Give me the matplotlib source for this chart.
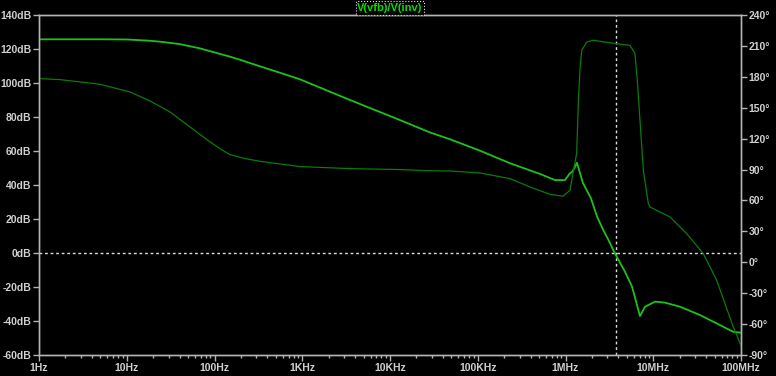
import numpy as np
import matplotlib
matplotlib.use('Agg')
import matplotlib.pyplot as plt
from matplotlib.font_manager import FontProperties
from matplotlib.ticker import FixedLocator, FixedFormatter, LogLocator, NullFormatter

# magnitude trace V(vfb)/V(inv), dB (left axis)
mag_freq = [1, 5, 10, 18, 25, 40, 68, 100, 150, 200, 330, 500, 940, 3500, 13000,
            28600, 48300, 106000, 233000, 512000, 759000, 986000, 1.125e6, 1.19e6,
            1.26e6, 1.35e6, 1.58e6, 1.95e6, 2.29e6, 2.72e6, 3.05e6, 3.66e6, 4.76e6,
            5.73e6, 7.06e6, 8.05e6, 1.05e7, 1.36e7, 2.02e7, 3.41e7, 5.77e7, 8.11e7, 1e8]
mag_db = [125.7, 125.7, 125.6, 124.9, 124.2, 122.9, 120.4, 118.0, 115.5, 113.5, 109.8,
          106.8, 102.2, 90.0, 78.2, 70.9, 66.9, 60.2, 52.8, 46.5, 42.9, 42.9, 46.9,
          47.8, 49.8, 53.1, 41.2, 32.2, 21.4, 13.0, 8.2, -0.2, -11.0, -19.8, -37.1,
          -31.6, -28.6, -29.2, -31.6, -36.5, -42.4, -46.3, -46.9]

# phase trace, degrees (right axis)
ph_freq = [1, 1.73, 4.95, 10.9, 18.4, 31.1, 52.6, 88.9, 120, 150, 223, 330, 942, 3500,
           13000, 28600, 48300, 106000, 233000, 394000, 665000, 938000, 1.125e6,
           1.216e6, 1.34e6, 1.40e6, 1.46e6, 1.53e6, 1.75e6, 2.07e6, 3.66e6, 5.43e6,
           6.19e6, 6.58e6, 7.06e6, 7.71e6, 8.79e6, 9.18e6, 1.55e7, 2.40e7, 3.72e7,
           5.28e7, 8.17e7, 1e8]
ph_deg = [178.3, 177.3, 172.8, 165.3, 156.6, 145.9, 131.3, 116.8, 109.4, 104.5, 100.6,
          98.0, 92.9, 90.9, 90.0, 88.8, 88.6, 86.7, 81.2, 73.1, 66.0, 64.1, 69.9, 86.4,
          105.8, 154.3, 186.4, 205.8, 213.8, 215.5, 212.3, 210.6, 202.6, 176.6, 137.8,
          89.3, 57.0, 53.7, 44.0, 27.9, 8.4, -17.5, -62.8, -80.6]

cursor_freq = 3.73e6

x_ticks = [1, 10, 100, 1e3, 1e4, 1e5, 1e6, 1e7, 1e8]
x_labels = ['1Hz', '10Hz', '100Hz', '1KHz', '10KHz', '100KHz', '1MHz', '10MHz', '100MHz']
db_ticks = list(range(-60, 141, 20))
db_labels = [f'{v}dB' for v in db_ticks]
deg_ticks = list(range(-90, 241, 30))
deg_labels = [f'{v}°' for v in deg_ticks]

grey = '#b4b4b4'
txt = '#d0d0d0'
mag_col = '#1cc21c'
ph_col = '#0a7c0a'
fp = FontProperties(family=['Liberation Sans', 'DejaVu Sans'], weight='bold', size=7.5)

fig = plt.figure(figsize=(7.76, 3.76), dpi=100, facecolor='black')
ax = fig.add_axes([39 / 776, 21 / 376, 702 / 776, 340 / 376])
ax.set_facecolor('black')
ax2 = ax.twinx()
ax2.patch.set_visible(False)

ax.semilogx(mag_freq, mag_db, color=mag_col, lw=1.3, zorder=3)
ax2.semilogx(ph_freq, ph_deg, color=ph_col, lw=0.9, zorder=2)

ax.axhline(0, color='#dcdcdc', lw=1, ls=(0, (2, 2)), zorder=1)
ax.axvline(cursor_freq, color='#dcdcdc', lw=1, ls=(0, (2, 2)), zorder=1)

ax.set_xlim(1, 1e8)
ax.set_ylim(-60, 140)
ax2.set_ylim(-90, 240)

ax.xaxis.set_major_locator(FixedLocator(x_ticks))
ax.xaxis.set_major_formatter(FixedFormatter(x_labels))
ax.xaxis.set_minor_locator(LogLocator(base=10, subs=np.arange(2, 10), numticks=20))
ax.xaxis.set_minor_formatter(NullFormatter())
ax.yaxis.set_major_locator(FixedLocator(db_ticks))
ax.yaxis.set_major_formatter(FixedFormatter(db_labels))
ax2.yaxis.set_major_locator(FixedLocator(deg_ticks))
ax2.yaxis.set_major_formatter(FixedFormatter(deg_labels))

for a in (ax, ax2):
    for s in a.spines.values():
        s.set_color(grey)
        s.set_linewidth(1)
    a.tick_params(which='major', color=grey, length=4, width=1, pad=1.5, labelcolor=txt)
    a.tick_params(which='minor', color=grey, length=2.5, width=1)
    for lab in a.get_xticklabels() + a.get_yticklabels():
        lab.set_fontproperties(fp)

title_fp = FontProperties(family=['Liberation Sans', 'DejaVu Sans'], weight='bold', size=8)
fig.text(390 / 776, 1 - 8 / 376, 'V(vfb)/V(inv)', color='#00e000', ha='center', va='center',
         fontproperties=title_fp,
         bbox=dict(boxstyle='square,pad=0.15', facecolor='black', edgecolor='#e0e0e0',
                   linestyle=':', linewidth=0.8))

fig.savefig('out.png', dpi=100, facecolor='black')
